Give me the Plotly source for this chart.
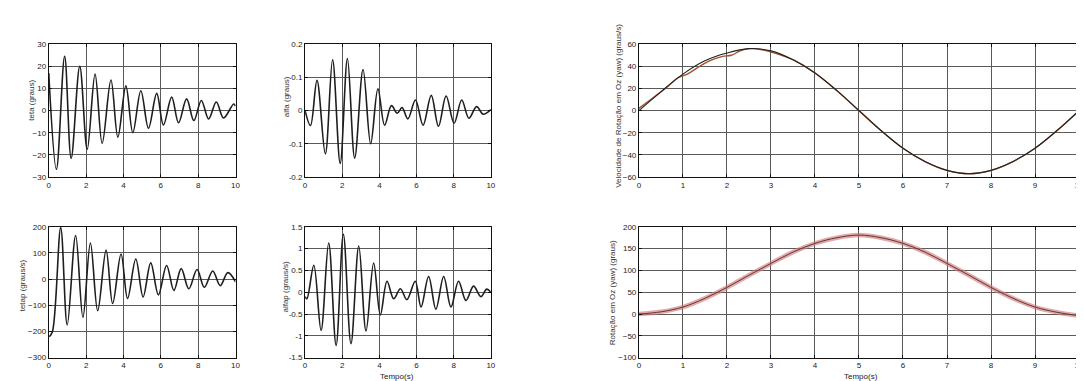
import plotly.graph_objects as go

W, H = 1084, 381

# ---------------- data ----------------
teta_t = [0.0, 0.41, 0.85, 1.2, 1.66, 2.06, 2.48, 2.86, 3.33, 3.7, 4.13, 4.5, 4.93, 5.34, 5.78, 6.14, 6.58, 6.95, 7.38, 7.77, 8.17, 8.56, 8.97, 9.36, 9.9, 10.0]
teta_v = [17, -26.5, 24.5, -21.6, 20.0, -17.5, 16.5, -14.8, 13.8, -12.0, 11.2, -10.0, 9.0, -8.0, 7.8, -6.5, 6.1, -5.5, 5.3, -4.5, 4.6, -3.8, 3.9, -3.3, 3.0, 2.0]

alfa_t = [0.0, 0.29, 0.64, 1.09, 1.48, 1.89, 2.28, 2.67, 3.12, 3.53, 3.92, 4.28, 4.65, 4.96, 5.22, 5.53, 5.94, 6.35, 6.79, 7.18, 7.59, 8.02, 8.43, 8.82, 9.23, 9.59, 10.0]
alfa_v = [0.0, -0.045, 0.091, -0.13, 0.153, -0.159, 0.157, -0.143, 0.124, -0.1, 0.066, -0.044, 0.015, -0.008, 0.009, -0.025, 0.032, -0.044, 0.046, -0.047, 0.044, -0.038, 0.032, -0.023, 0.012, -0.011, 0.003]

tetap_t = [0.03, 0.2, 0.64, 0.99, 1.44, 1.83, 2.23, 2.62, 3.07, 3.42, 3.87, 4.22, 4.66, 5.05, 5.46, 5.87, 6.31, 6.7, 7.09, 7.5, 7.94, 8.33, 8.78, 9.18, 9.59, 10.0]
tetap_v = [-220, -200, 197, -175, 167, -146, 138, -121, 111, -93, 96, -74, 77, -68, 62, -60, 52, -43, 40, -37, 37, -31, 31, -25, 25, -10]

alfap_t = [0.0, 0.1, 0.47, 0.86, 1.27, 1.67, 2.06, 2.47, 2.89, 3.28, 3.69, 4.05, 4.41, 4.77, 5.13, 5.48, 5.93, 6.24, 6.65, 7.04, 7.46, 7.85, 8.26, 8.66, 9.07, 9.46, 9.78, 10.0]
alfap_v = [-0.1, -0.15, 0.62, -0.875, 1.13, -1.22, 1.33, -1.18, 1.06, -0.89, 0.67, -0.52, 0.25, -0.15, 0.08, -0.17, 0.25, -0.34, 0.36, -0.39, 0.36, -0.34, 0.25, -0.19, 0.14, -0.1, 0.07, 0.0]

yawr_ref_t = [0, 0.5, 1, 1.5, 2, 2.5, 3, 3.5, 4, 4.5, 5, 5.5, 6, 6.5, 7, 7.5, 8, 8.5, 9, 9.5, 10]
yawr_ref_v = [0, 17, 33, 45, 52, 56, 54, 46, 34, 18, 0, -18, -34, -46, -54, -57, -54, -46, -34, -18, 0]

yawr_mea_t = [0, 0.3, 0.6, 0.9, 1.1, 1.3, 1.6, 1.9, 2.1, 2.3, 2.5, 2.8, 3.0, 3.5, 4, 4.5, 5, 5.5, 6, 6.5, 7, 7.5, 8, 8.5, 9, 9.5, 10]
yawr_mea_v = [2, 11, 20, 30, 33, 38, 45, 49, 50, 54, 56, 55, 53, 46, 34, 18, 0, -18, -34, -46, -54, -57, -54, -46, -34, -18, 0]

yaw_t = [0, 0.5, 1, 1.5, 2, 2.5, 3, 3.5, 4, 4.5, 5, 5.5, 6, 6.5, 7, 7.5, 8, 8.5, 9, 9.5, 10]
yaw_v = [0, 5, 16, 36, 61, 89, 116, 142, 162, 175, 181, 175, 162, 142, 116, 89, 61, 36, 16, 4, -4]

x_ticks_small = [0, 2, 4, 6, 8, 10]
x_ticks_big = [0, 1, 2, 3, 4, 5, 6, 7, 8, 9, 10]
y1_ticks = [-30, -20, -10, 0, 10, 20, 30]
y2_ticks = [-0.2, -0.1, 0, 0.1, 0.2]
y2_text = ["-0.2", "-0.1", "0", "0.1", "0.2"]
y3_ticks = [-300, -200, -100, 0, 100, 200]
y4_ticks = [-1.5, -1, -0.5, 0, 0.5, 1, 1.5]
y4_text = ["-1.5", "-1", "-0.5", "0", "0.5", "1", "1.5"]
y5_ticks = [-60, -40, -20, 0, 20, 40, 60]
y6_ticks = [-100, -50, 0, 50, 100, 150, 200]

# ---------------- layout helpers ----------------
def xd(a, b):
    return [a / W, b / W]

def yd(top, bot):
    return [1 - bot / H, 1 - top / H]

FONT = "Liberation Sans, Arial, sans-serif"
GRID = "#5a5a5a"
tickfont = dict(family=FONT, size=8, color="#222")

def axis(domain, rng, tickvals, anchor, ticktext=None):
    d = dict(domain=domain, range=rng, tickvals=tickvals, anchor=anchor,
             showgrid=True, gridcolor=GRID, gridwidth=1, zeroline=False,
             showline=True, linecolor="#111", linewidth=1, mirror="ticks",
             ticks="inside", ticklen=3, tickcolor="#111",
             tickfont=tickfont, fixedrange=True, ticklabeloverflow="allow")
    if ticktext is not None:
        d["ticktext"] = ticktext
    return d

fig = go.Figure()
line_dark = dict(color="#1e1e1e", width=1.6, shape="spline", smoothing=1.0)

fig.add_trace(go.Scatter(x=teta_t, y=teta_v, mode="lines", line=line_dark, xaxis="x", yaxis="y"))
fig.add_trace(go.Scatter(x=alfa_t, y=alfa_v, mode="lines", line=line_dark, xaxis="x2", yaxis="y2"))
fig.add_trace(go.Scatter(x=tetap_t, y=tetap_v, mode="lines", line=line_dark, xaxis="x3", yaxis="y3"))
fig.add_trace(go.Scatter(x=alfap_t, y=alfap_v, mode="lines", line=line_dark, xaxis="x4", yaxis="y4"))
fig.add_trace(go.Scatter(x=yawr_mea_t, y=yawr_mea_v, mode="lines",
                         line=dict(color="#a0522d", width=1.4, shape="spline", smoothing=1.0),
                         xaxis="x5", yaxis="y5"))
fig.add_trace(go.Scatter(x=yawr_ref_t, y=yawr_ref_v, mode="lines",
                         line=dict(color="#222", width=1.1, shape="spline", smoothing=1.0),
                         xaxis="x5", yaxis="y5"))
fig.add_trace(go.Scatter(x=yaw_t, y=yaw_v, mode="lines",
                         line=dict(color="rgba(215,120,120,0.65)", width=4.5, shape="spline", smoothing=1.0),
                         xaxis="x6", yaxis="y6"))
fig.add_trace(go.Scatter(x=yaw_t, y=yaw_v, mode="lines",
                         line=dict(color="#5a3a3a", width=1.0, shape="spline", smoothing=1.0),
                         xaxis="x6", yaxis="y6"))

ax1x, ax2x, ax5x = xd(39, 227), xd(297, 484), xd(633, 1076)
top_y, bot_y = yd(33, 169), yd(220, 354)

layout = dict(
    width=W, height=H, autosize=False,
    margin=dict(l=0, r=0, t=0, b=0),
    paper_bgcolor="white", plot_bgcolor="white",
    showlegend=False,
    xaxis=axis(ax1x, [0, 10], x_ticks_small, "y"),
    yaxis=axis(top_y, [-30, 30], y1_ticks, "x"),
    xaxis2=axis(ax2x, [0, 10], x_ticks_small, "y2"),
    yaxis2=axis(top_y, [-0.2, 0.2], y2_ticks, "x2", y2_text),
    xaxis3=axis(ax1x, [0, 10], x_ticks_small, "y3"),
    yaxis3=axis(bot_y, [-300, 200], y3_ticks, "x3"),
    xaxis4=axis(ax2x, [0, 10], x_ticks_small, "y4"),
    yaxis4=axis(bot_y, [-1.5, 1.5], y4_ticks, "x4", y4_text),
    xaxis5=axis(ax5x, [0, 10], x_ticks_big, "y5"),
    yaxis5=axis(top_y, [-60, 60], y5_ticks, "x5"),
    xaxis6=axis(ax5x, [0, 10], x_ticks_big, "y6"),
    yaxis6=axis(bot_y, [-100, 200], y6_ticks, "x6"),
)
fig.update_layout(**layout)

titlefont = dict(family=FONT, size=8, color="#333")
def ytitle(text, px, py):
    fig.add_annotation(text=text, x=px / W, y=1 - py / H, xref="paper", yref="paper",
                       textangle=-90, showarrow=False, font=titlefont,
                       xanchor="center", yanchor="middle")

def xtitle(text, px, py):
    fig.add_annotation(text=text, x=px / W, y=1 - py / H, xref="paper", yref="paper",
                       showarrow=False, font=dict(family=FONT, size=8, color="#222"),
                       xanchor="center", yanchor="middle")

ytitle("teta (graus)", 22, 90)
ytitle("alfa (graus)", 279, 87)
ytitle("tetap (graus/s)", 12, 280)
ytitle("alfap (graus/s)", 277, 282)
ytitle("Velocidade de Rotação em Oz (yaw) (graus/s)", 613, 96)
ytitle("Rotação em Oz (yaw) (graus)", 606, 288)
xtitle("Tempo(s)", 390, 373)
xtitle("Tempo(s)", 857, 373)

fig.write_html("out.html")
